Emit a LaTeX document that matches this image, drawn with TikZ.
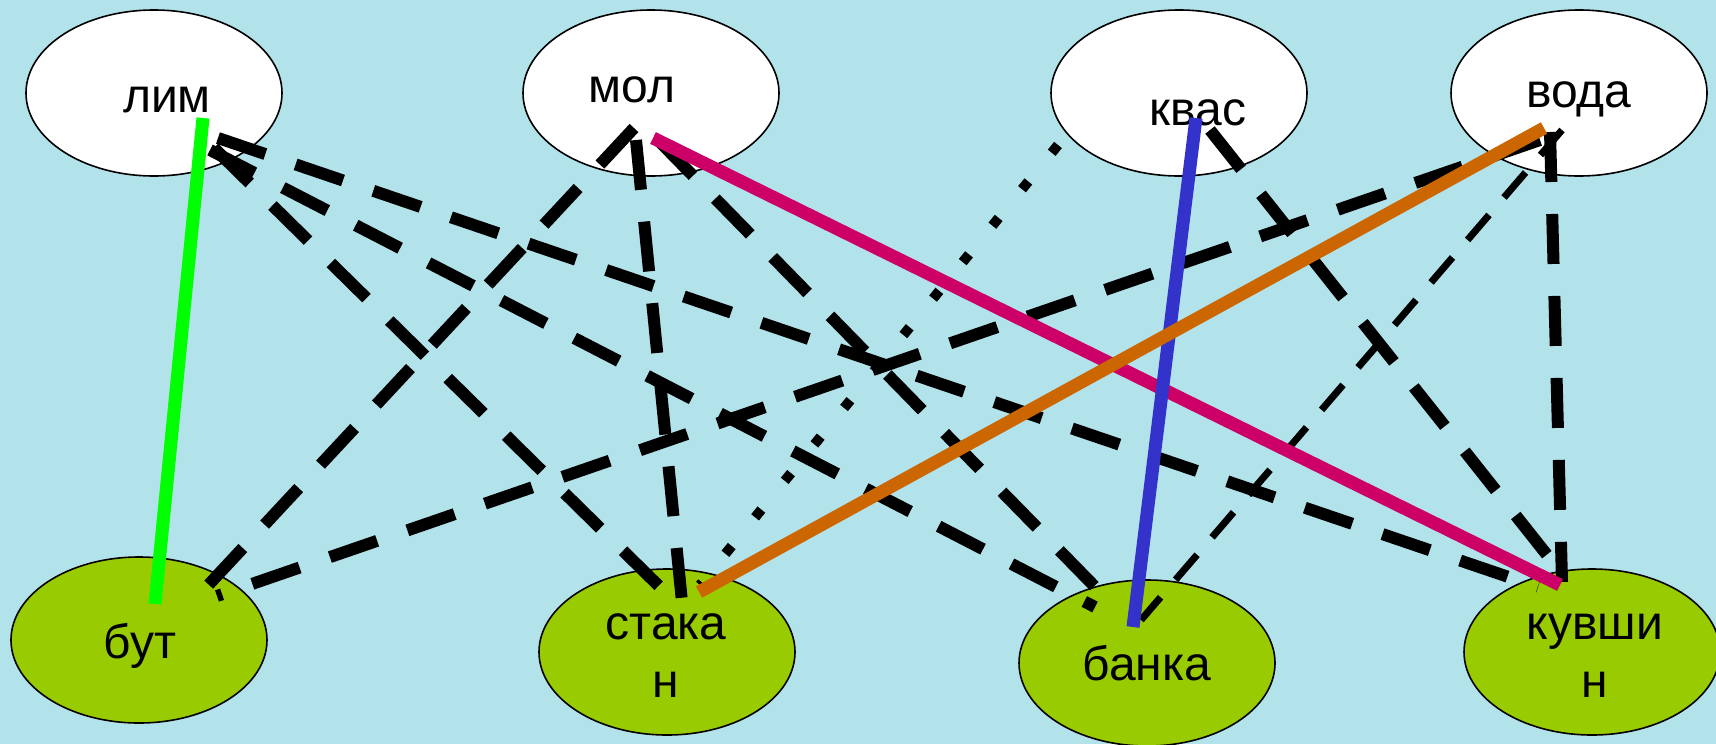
\documentclass[tikz,border=0pt]{standalone}
\usepackage{fontspec}
\setmainfont{Liberation Sans}
\usetikzlibrary{shapes.geometric}

\definecolor{water}{RGB}{178,226,234}
\definecolor{leaf}{RGB}{153,204,0}
\definecolor{limline}{RGB}{0,255,0}
\definecolor{molline}{RGB}{204,0,102}
\definecolor{kvasline}{RGB}{51,51,204}
\definecolor{vodaline}{RGB}{204,102,0}

\tikzstyle{drink}=[draw,fill=white,ellipse,line width=0.8pt,minimum width=128pt,minimum height=83pt,inner sep=0pt]
\tikzstyle{vessel}=[drink,fill=leaf]
\tikzstyle{word}=[anchor=base,inner sep=0pt,align=center,font=\fontsize{24}{29}\selectfont]
\tikzstyle{pair}=[line width=6pt,dash pattern=on 25pt off 16pt]
\tikzstyle{thinpair}=[line width=3.5pt,dash pattern=on 16.5pt off 11.5pt]
\tikzstyle{dotpair}=[line width=5pt,dash pattern=on 5pt off 18.5pt]
\tikzstyle{match}=[line width=6.5pt]

\begin{document}
\begin{tikzpicture}[x=0.5pt,y=-0.5pt]
  \useasboundingbox (0,0) rectangle (1716,744);
  \fill [water] (0,0) rectangle (1716,744);
  % drinks on top, vessels below
  \node [drink] (lim) at (154,93) {};
  \node [drink] (mol) at (651,93) {};
  \node [drink] (kvas) at (1179,93) {};
  \node [drink] (voda) at (1579,93) {};
  \node [vessel] (but) at (139,640) {};
  \node [vessel] (stakan) at (667,652) {};
  \node [vessel] (banka) at (1147,663) {};
  \node [vessel] (kuvshin) at (1592,652) {};
  \node [word] (tlim) at (167,112) {лим};
  \node [word] (tmol) at (632,102) {мол};
  \node [word] (tkvas) at (1198,125) {квас};
  \node [word] (tvoda) at (1579,107) {вода};
  \node [word] (tbut) at (140,658) {бут};
  \node [word] (tstakan) at (666,697) {стака\\н};
  \node [word] (tbanka) at (1147,680) {банка};
  \node [word] (tkuvshin) at (1595,697) {кувши\\н};
  % wrong pairs
  \draw [pair] ([shift={(60,55)}]lim.center) -- ([shift={(1,-57)}]stakan.center);
  \draw [pair] ([shift={(56,57)}]lim.center) -- ([shift={(-52,-56)}]banka.center);
  \draw [pair] ([shift={(64,45)}]lim.center) -- ([shift={(-54,-65)}]kuvshin.center);
  \draw [pair] ([shift={(-17,35)}]mol.center) -- ([shift={(61,-46)}]but.center);
  \draw [pair] ([shift={(-15,47)}]mol.center) -- ([shift={(15,-50)}]stakan.center);
  \draw [pair] ([shift={(7,47)}]mol.center) -- ([shift={(-44,-68)}]banka.center);
  \draw [pair] ([shift={(31,37)}]kvas.center) -- ([shift={(-37,-87)}]kuvshin.center);
  \draw [pair] ([shift={(-39,47)}]voda.center) -- ([shift={(78,-44)}]but.center);
  \draw [pair] ([shift={(-29,39)}]voda.center) -- ([shift={(-30,-70)}]kuvshin.center);
  \draw [thinpair] ([shift={(-17,37)}]voda.center) -- ([shift={(-6,-43)}]banka.center);
  \draw [dotpair] ([shift={(-121,52)}]kvas.center) -- ([shift={(33,-67)}]stakan.center);
  % right pairs
  \draw [match,limline] ([shift={(49,25)}]lim.center) -- ([shift={(16,-36)}]but.center);
  \draw [match,molline] ([shift={(2,45)}]mol.center) -- ([shift={(-32,-67)}]kuvshin.center);
  \draw [match,kvasline] ([shift={(17,25)}]kvas.center) -- ([shift={(-14,-36)}]banka.center);
  \draw [match,vodaline] ([shift={(-35,35)}]voda.center) -- ([shift={(32,-60)}]stakan.center);
\end{tikzpicture}
\end{document}
